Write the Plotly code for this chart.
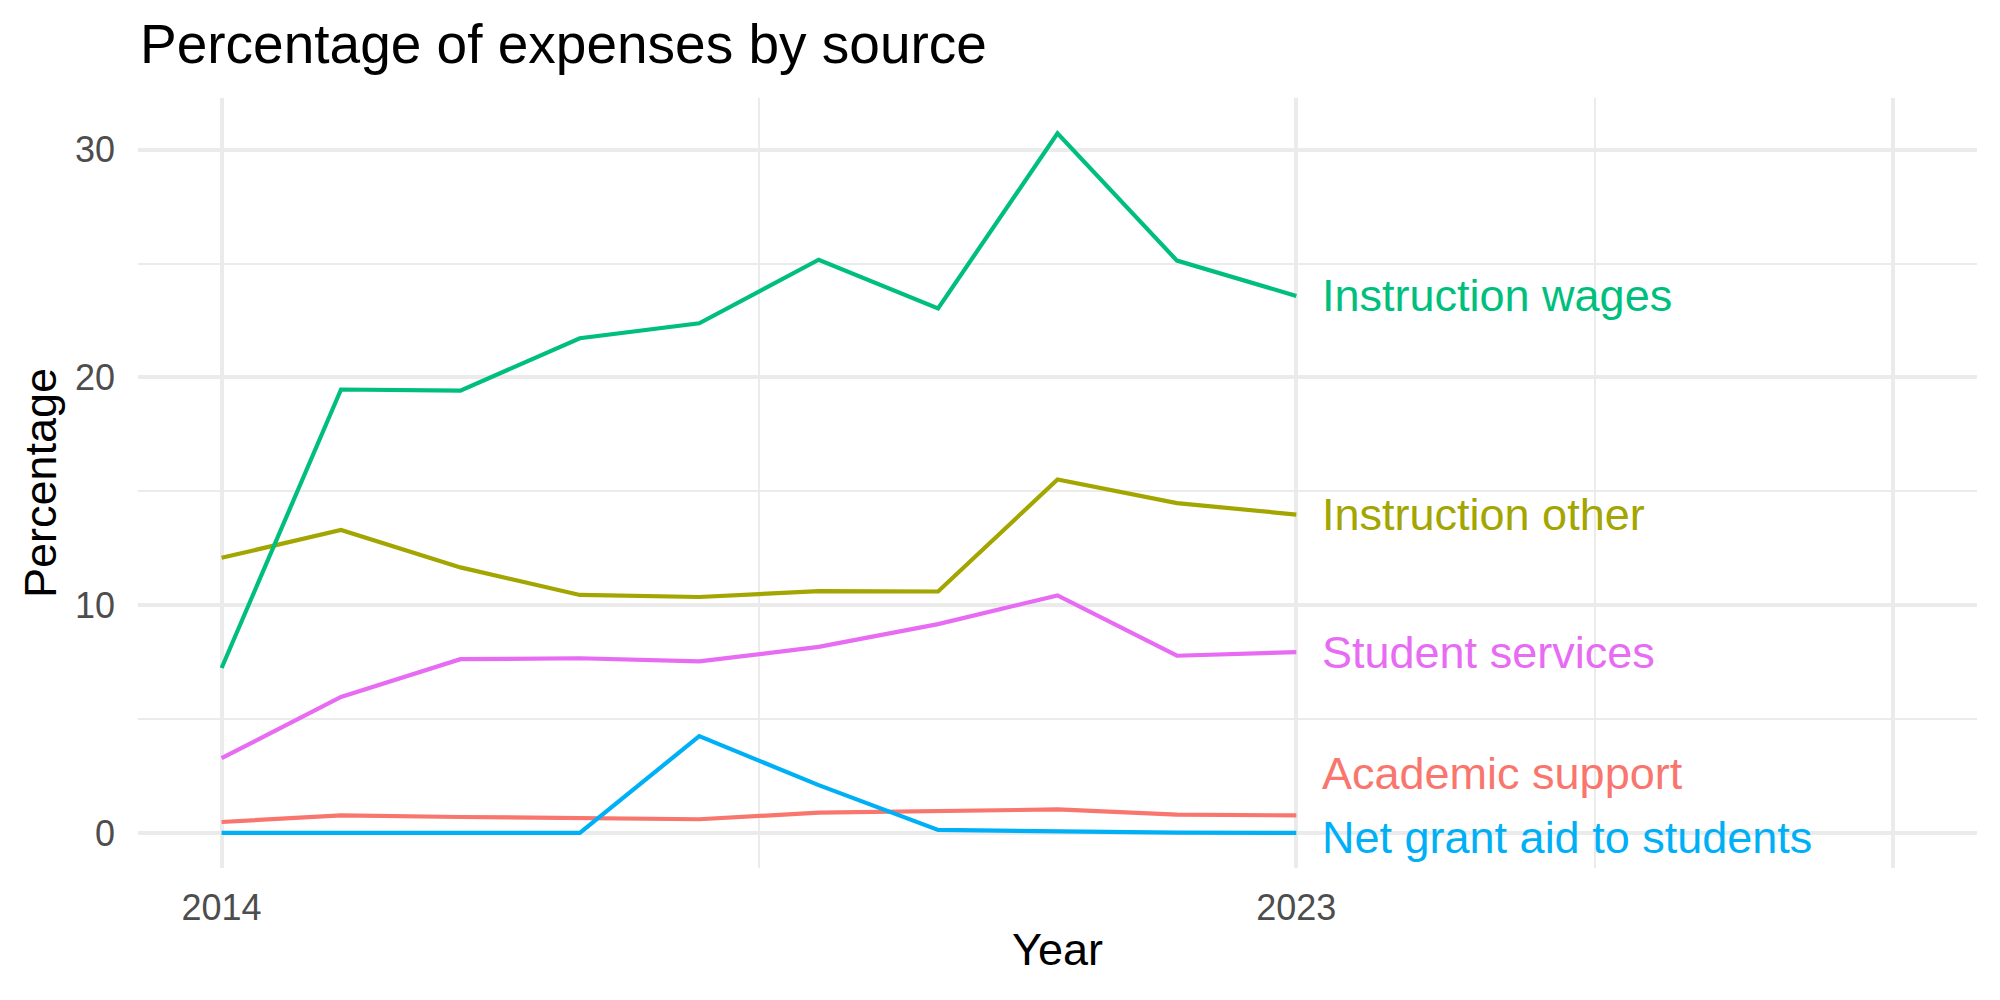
import plotly.graph_objects as go

years = [2014, 2015, 2016, 2017, 2018, 2019, 2020, 2021, 2022, 2023]

series_names = ["Academic support", "Instruction other", "Instruction wages",
                "Net grant aid to students", "Student services"]

academic_support = [0.48, 0.77, 0.70, 0.66, 0.60, 0.89, 0.95, 1.03, 0.80, 0.77]
instruction_other = [12.08, 13.30, 11.66, 10.45, 10.36, 10.62, 10.60, 15.52, 14.48, 13.98]
instruction_wages = [7.24, 19.47, 19.42, 21.72, 22.38, 25.17, 23.03, 30.72, 25.13, 23.58]
net_grant_aid = [0.0, 0.0, 0.0, 0.0, 4.25, 2.10, 0.13, 0.06, 0.01, 0.0]
student_services = [3.28, 5.97, 7.63, 7.67, 7.53, 8.17, 9.17, 10.43, 7.78, 7.94]

values = [academic_support, instruction_other, instruction_wages, net_grant_aid, student_services]
colors = ["#F8766D", "#A3A500", "#00BF7D", "#00B0F6", "#E76BF3"]

x_tick_vals = [2014, 2023, 2028]
x_tick_text = ["2014", "2023", ""]
y_tick_vals = [0, 10, 20, 30]

fig = go.Figure()
for name, vals, col in zip(series_names, values, colors):
    fig.add_trace(go.Scatter(x=years, y=vals, mode="lines", name=name,
                             line=dict(color=col, width=4.2), showlegend=False))

# end labels (repelled slightly like ggrepel for the two overlapping ones)
label_shift = {"Academic support": 1.82, "Net grant aid to students": -0.18}
for name, vals, col in zip(series_names, values, colors):
    fig.add_annotation(x=years[-1] + 0.2, y=vals[-1] + label_shift.get(name, 0),
                       xref="x", yref="y", text=name, showarrow=False,
                       xanchor="left", yanchor="middle",
                       font=dict(family="Liberation Sans", size=45, color=col))

grid = "#EBEBEB"
fig.update_layout(
    width=2000, height=1000,
    margin=dict(l=138, r=23, t=98, b=132),
    paper_bgcolor="white", plot_bgcolor="white",
    font=dict(family="Liberation Sans"),
    title=dict(text="Percentage of expenses by source", x=140 / 2000, xanchor="left",
               xref="container", yref="container", y=1 - 44 / 1000, yanchor="middle",
               font=dict(size=55, color="black")),
    xaxis=dict(range=[2013.3, 2028.7], tickmode="array", tickvals=x_tick_vals,
               ticktext=x_tick_text, showgrid=True, gridcolor=grid, gridwidth=4,
               zeroline=False, showline=False, ticks="", ticklabelstandoff=15,
               tickfont=dict(size=36, color="#4D4D4D"),
               minor=dict(tickmode="array", tickvals=[2018.5, 2025.5], showgrid=True,
                          gridcolor=grid, gridwidth=2),
               title=dict(text="Year", font=dict(size=45, color="black"), standoff=6)),
    yaxis=dict(range=[-1.54, 32.27], tickmode="array", tickvals=y_tick_vals,
               showgrid=True, gridcolor=grid, gridwidth=4,
               zeroline=False, showline=False, ticks="", ticklabelstandoff=22,
               tickfont=dict(size=36, color="#4D4D4D"),
               minor=dict(tickmode="array", tickvals=[5, 15, 25], showgrid=True,
                          gridcolor=grid, gridwidth=2),
               title=dict(text="Percentage", font=dict(size=45, color="black"), standoff=4)),
)

fig.write_html("out.html")
